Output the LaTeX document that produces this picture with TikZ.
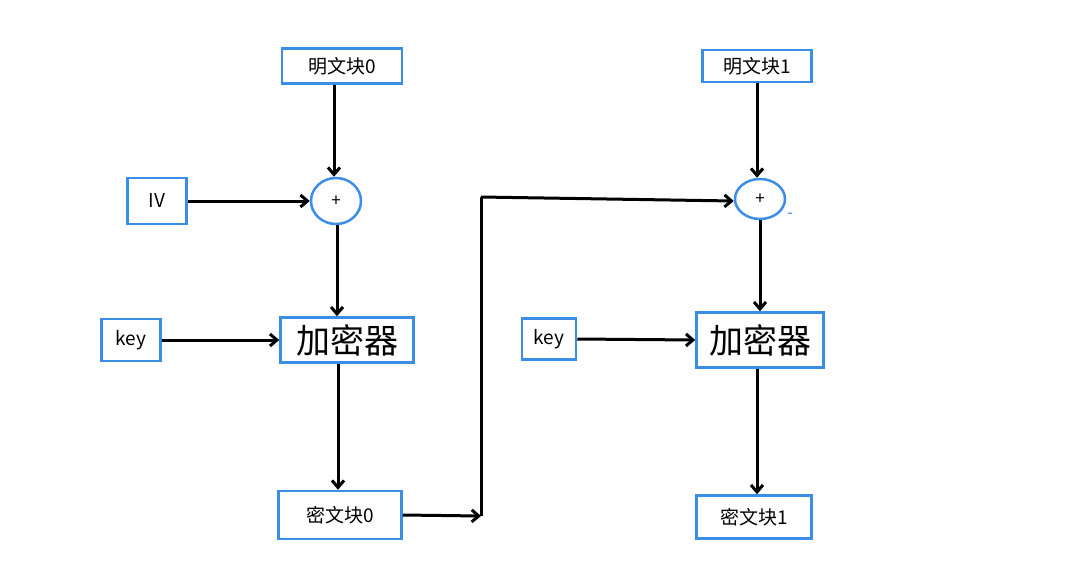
\documentclass[tikz,border=0pt]{standalone}
\usepackage{fontspec}
\setmainfont{Noto Sans CJK SC}
\usetikzlibrary{arrows.meta,shapes.geometric}
\definecolor{bl}{HTML}{3A8EE6}
\begin{document}
\begin{tikzpicture}[x=1pt,y=-1pt,
 box/.style={draw=bl,line width=2.5pt,inner sep=0pt,font=\fontsize{19}{19}\selectfont},
 big/.style={box,font=\fontsize{34}{34}\selectfont},
 xo/.style={draw=bl,line width=2.5pt,ellipse,inner sep=0pt,font=\fontsize{17}{17}\selectfont},
 ar/.style={line width=3pt,-{Straight Barb[length=7pt,width=12pt]}},
 ln/.style={line width=3pt}]
\useasboundingbox (0,0) rectangle (1068,574);
\node[box,minimum width=120,minimum height=35] (p0) at (342,66) {明文块0};
\node[box,minimum width=109,minimum height=32] (p1) at (757,66) {明文块1};
\node[box,minimum width=59,minimum height=46] (iv) at (157,201) {IV};
\node[xo,minimum width=50,minimum height=46] (s0) at (336,201) {+};
\node[xo,minimum width=50,minimum height=40] (s1) at (760,199) {+};
\node[text=bl,font=\fontsize{17}{17}\selectfont] (m1) at (790,216) {-};
\node[box,minimum width=59,minimum height=42] (k0) at (131,340) {key};
\node[box,minimum width=54,minimum height=41] (k1) at (549,339) {key};
\node[big,minimum width=133,minimum height=45] (e0) at (347,340) {加密器};
\node[big,minimum width=127,minimum height=55] (e1) at (760,340) {加密器};
\node[box,minimum width=123,minimum height=48] (c0) at (340,515) {密文块0};
\node[box,minimum width=115,minimum height=43] (c1) at (754,517) {密文块1};
\coordinate (j) at (481,516);
\coordinate (u) at (481,197);
\draw[ar] ([xshift=-8]p0.south) -- ([xshift=-2]s0.north);
\draw[ar] (iv.east) -- (s0.west);
\draw[ar] ([xshift=1]s0.south) -- ([xshift=-10]e0.north);
\draw[ar] (k0.east) -- (e0.west);
\draw[ar] ([xshift=-9]e0.south) -- ([xshift=-2]c0.north);
\draw[ar] (c0.east) -- (j);
\draw[ln] (j) -- (u);
\draw[ar] (u) -- ([yshift=-2]s1.west);
\draw[ar] (p1.south) -- ([xshift=-3]s1.north);
\draw[ar] (s1.south) -- (e1.north);
\draw[ar] (k1.east) -- (e1.west);
\draw[ar] ([xshift=-3]e1.south) -- ([xshift=3]c1.north);
\end{tikzpicture}
\end{document}
